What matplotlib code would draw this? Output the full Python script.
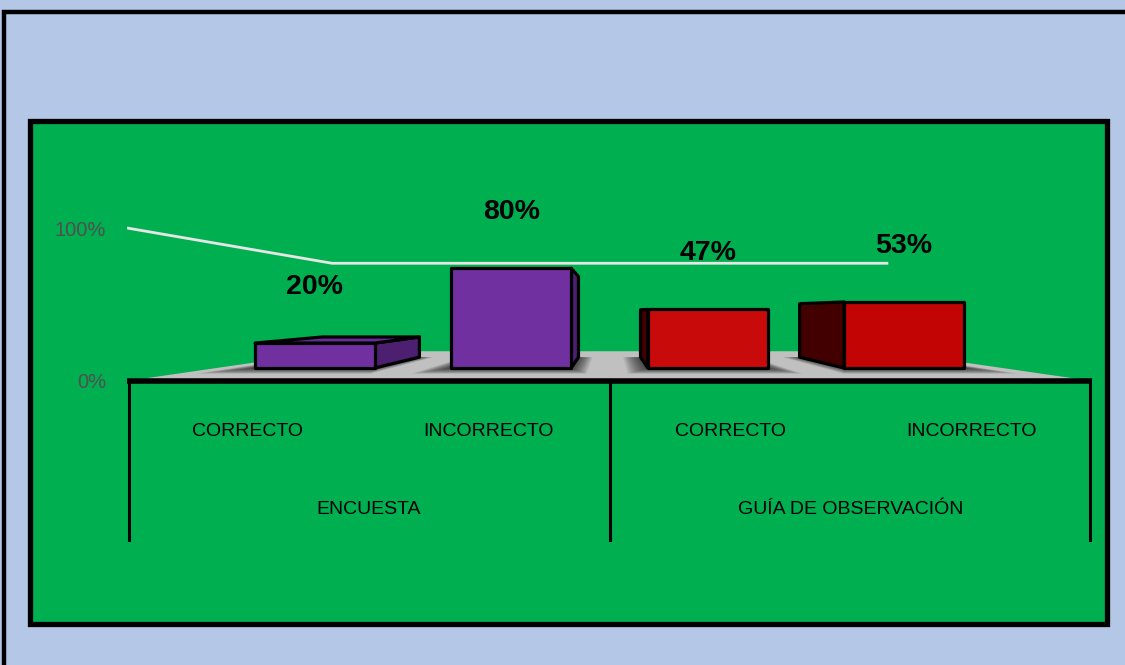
import matplotlib
matplotlib.use('Agg')
import matplotlib.pyplot as plt
from matplotlib.patches import Polygon, Rectangle

# datos del gráfico
categories = ['CORRECTO', 'INCORRECTO', 'CORRECTO', 'INCORRECTO']
groups = ['ENCUESTA', 'GUÍA DE OBSERVACIÓN']
values = [20, 80, 47, 53]
value_labels = ['20%', '80%', '47%', '53%']
ytick_vals = [0, 100]
ytick_labels = ['0%', '100%']

# colores: cara frontal, cara lateral, cara superior
bar_colors = [('#7030A0', '#4C1F70', '#6A2C98'),
              ('#7030A0', '#4C1F70', '#6A2C98'),
              ('#C90A0A', '#420000', '#A00000'),
              ('#C20404', '#420000', '#A00000')]

W, H = 1125, 665
fig = plt.figure(figsize=(W / 100, H / 100), dpi=100)
fig.patch.set_facecolor('#B4C7E7')

# marco exterior y área verde
fig.add_artist(Rectangle((4 / W, -0.1), 1.2, (H - 12) / H + 0.1, transform=fig.transFigure,
                         facecolor='none', edgecolor='black', lw=3.2, zorder=0))
fig.add_artist(Rectangle((30 / W, (H - 624) / H), 1077 / W, 503 / H, transform=fig.transFigure,
                         facecolor='#00AF50', edgecolor='black', lw=3.8, zorder=0))

PX = 1.53  # pixeles por unidad en el plano frontal
ax = fig.add_axes([127 / W, (H - 545) / H, 965 / W, 425 / H])
ax.set_xlim(-0.5, 3.5)
ax.set_ylim(-164 / PX, 261 / PX)
ax.patch.set_visible(False)
for sp in ax.spines.values():
    sp.set_visible(False)
ax.set_xticks([])
ax.set_yticks(ytick_vals)
ax.set_yticklabels(ytick_labels, family='Liberation Sans')
ax.tick_params(axis='y', length=0, pad=15, labelcolor='#505050', labelsize=14.5)

# perspectiva simple: punto de fuga y profundidades
VX, VY = 1.5, 70 / PX
S_WALL = 0.575
S_FRONT = 0.814
S_BACK = S_FRONT * 0.81
BW = 0.61


def proj(x, z, s):
    return (VX + (x - VX) * s, VY + (z - VY) * s)


def face(pts, **kw):
    ax.add_patch(Polygon([proj(*p) for p in pts], closed=True, **kw))


# piso
face([(-0.5, 0, 1), (3.5, 0, 1), (3.5, 0, S_WALL), (-0.5, 0, S_WALL)],
     facecolor='#C0C0C0', edgecolor='none', zorder=1)

# sombras difusas bajo las barras
N_SH = 12
for i, v in enumerate(values):
    for k in range(N_SH):
        e = 0.11 * (N_SH - k) / N_SH
        face([(i - BW / 2 - e, 0, S_FRONT + e * 0.75), (i + BW / 2 + e * 0.8, 0, S_FRONT + e * 0.75),
              (i + BW / 2 + e * 0.8, 0, S_BACK), (i - BW / 2 - e, 0, S_BACK)],
             facecolor='black', edgecolor='none', alpha=0.075, zorder=1.5)

# línea de 100%
grid = [proj(-0.5, 100, 1), proj(-0.5, 100, S_WALL), proj(3.5, 100, S_WALL)]
ax.plot([p[0] for p in grid], [p[1] for p in grid], color='#E6E6E6', lw=2, zorder=2)

# barras 3D
for i, v in enumerate(values):
    front_c, side_c, top_c = bar_colors[i]
    x0, x1 = i - BW / 2, i + BW / 2
    edge = dict(edgecolor='black', lw=2.3, joinstyle='round', zorder=3)
    xs = x1 if i < VX else x0
    face([(xs, 0, S_FRONT), (xs, 0, S_BACK), (xs, v, S_BACK), (xs, v, S_FRONT)],
         facecolor=side_c, **edge)
    if v < VY:
        face([(x0, v, S_FRONT), (x1, v, S_FRONT), (x1, v, S_BACK), (x0, v, S_BACK)],
             facecolor=top_c, **edge)
    face([(x0, 0, S_FRONT), (x1, 0, S_FRONT), (x1, v, S_FRONT), (x0, v, S_FRONT)],
         facecolor=front_c, **edge)
    lx, ly = proj(i, v + 45, S_FRONT)
    ax.text(lx, ly, value_labels[i], ha='center', va='center', fontsize=20.5,
            fontweight='bold', family='Liberation Sans', color='black', zorder=5)

# eje horizontal y divisiones de categorías
ax.plot([-0.5, 3.5], [0, 0], color='black', lw=4, solid_capstyle='round', zorder=4)
for x in [-0.49, 1.5, 3.49]:
    ax.plot([x, x], [0, -159 / PX], color='black', lw=2.2, zorder=4)

for i, c in enumerate(categories):
    ax.text(i, -51 / PX, c, ha='center', va='center', fontsize=14,
            family='Liberation Sans', color='black')
for j, g in enumerate(groups):
    ax.text(0.5 + 2 * j, -128 / PX, g, ha='center', va='center', fontsize=14,
            family='Liberation Sans', color='black')

fig.savefig('out.png', dpi=100, facecolor=fig.get_facecolor())
